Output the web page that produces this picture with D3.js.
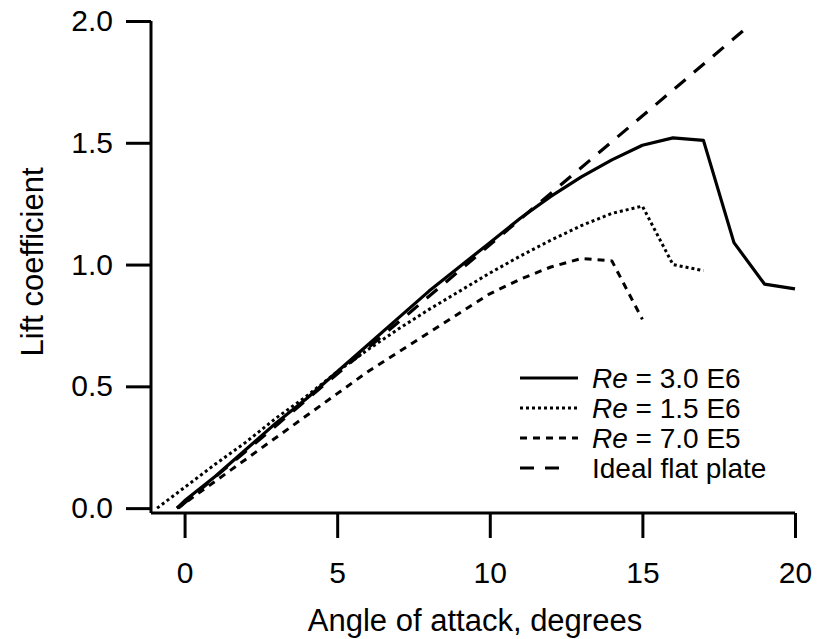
<!DOCTYPE html>
<html><head><meta charset="utf-8">
<script src="https://cdn.jsdelivr.net/npm/d3@7"></script>
<style>
html,body{margin:0;padding:0;background:#fff;}
svg{display:block;font-family:"Liberation Sans",Arial,Helvetica,sans-serif;}
</style></head>
<body><svg id="chart" width="819" height="639"></svg>
<script>
// ---- data ----
const alphaRe30E6 = [-0.25,0,1,2,3,4,5,6,7,8,9,10,11,12,13,14,15,16,17,18,19,20];
const clRe30E6    = [0,0.03,0.13,0.24,0.35,0.45,0.56,0.67,0.78,0.89,0.99,1.09,1.19,1.28,1.36,1.43,1.49,1.52,1.51,1.09,0.92,0.90];
const alphaRe15E6 = [-0.9,0,1,2,3,4,5,6,7,8,9,10,11,12,13,14,15,16,17];
const clRe15E6    = [0,0.085,0.18,0.27,0.37,0.46,0.56,0.65,0.735,0.815,0.89,0.965,1.035,1.10,1.16,1.21,1.24,1.00,0.975];
const alphaRe70E5 = [-0.25,0,1,2,3,4,5,6,7,8,9,10,11,12,13,14,15];
const clRe70E5    = [0,0.02,0.11,0.20,0.29,0.38,0.47,0.56,0.64,0.72,0.80,0.88,0.94,0.99,1.025,1.015,0.775];
const alphaIdeal  = [-0.2,18.3];
const clIdeal     = [0,1.96];
const xTicks = [0,5,10,15,20];
const yTicks = [0,0.5,1.0,1.5,2.0];
const legendLabels = [["Re"," = 3.0 E6"],["Re"," = 1.5 E6"],["Re"," = 7.0 E5"],["","Ideal flat plate"]];

const svg = d3.select("#chart");
const x = d3.scaleLinear().domain([-1.1,20]).range([151,795]);
const y = d3.scaleLinear().domain([-0.02,2]).range([513,21]);

const styles = [
  {dash:null, w:3.2},
  {dash:"3,3", w:3},
  {dash:"7,6", w:3},
  {dash:"14,11", w:3.2}
];
const series = [
  {a:alphaRe30E6, c:clRe30E6},
  {a:alphaRe15E6, c:clRe15E6},
  {a:alphaRe70E5, c:clRe70E5},
  {a:alphaIdeal,  c:clIdeal}
];

// axes
const yAxis = d3.axisLeft(y).tickValues(yTicks).tickFormat(d3.format(".1f")).tickSize(25).tickSizeOuter(0).tickPadding(13);
const gy = svg.append("g").attr("transform","translate(151,0)").call(yAxis);
const xAxis = d3.axisBottom(x).tickValues(xTicks).tickFormat(d3.format("d")).tickSize(25).tickSizeOuter(0).tickPadding(24);
const gx = svg.append("g").attr("transform","translate(0,513)").call(xAxis);
[gx,gy].forEach(g=>{
  g.selectAll("path.domain").attr("stroke","#000").attr("stroke-width",3);
  g.selectAll(".tick line").attr("stroke","#000").attr("stroke-width",3);
  g.selectAll(".tick text").attr("fill","#000").style("font-size","30px").style("font-family",'"Liberation Sans",Arial,sans-serif');
});
gx.select("path.domain").attr("d",`M${x.range()[0]},0H${x.range()[1]}`);
gy.select("path.domain").attr("d",`M0,${y.range()[0]}V${y.range()[1]}`);

// axis titles
svg.append("text").attr("x",475).attr("y",631).attr("text-anchor","middle")
  .style("font-size","31px").text("Angle of attack, degrees");
svg.append("text").attr("transform","translate(43,262) rotate(-90)").attr("text-anchor","middle")
  .style("font-size","31px").text("Lift coefficient");

// curves
const line = d3.line().x(d=>x(d[0])).y(d=>y(d[1]));
series.forEach((s,i)=>{
  const pts = s.a.map((a,j)=>[a,s.c[j]]);
  svg.append("path").attr("d",line(pts)).attr("fill","none").attr("stroke","#000")
    .attr("stroke-width",styles[i].w).attr("stroke-dasharray",styles[i].dash)
    .attr("stroke-linejoin","round");
});

// legend
const legY = [378,408,438,468];
legendLabels.forEach((lab,i)=>{
  const yy = legY[i];
  svg.append("line").attr("x1",520).attr("x2",i===3?561:578).attr("y1",yy).attr("y2",yy)
    .attr("stroke","#000").attr("stroke-width",styles[i].w).attr("stroke-dasharray",styles[i].dash);
  const t = svg.append("text").attr("x",592).attr("y",yy+10).style("font-size","28px");
  if(lab[0]) t.append("tspan").style("font-style","italic").text(lab[0]);
  t.append("tspan").attr("xml:space","preserve").text(lab[1]);
});
</script></body></html>
